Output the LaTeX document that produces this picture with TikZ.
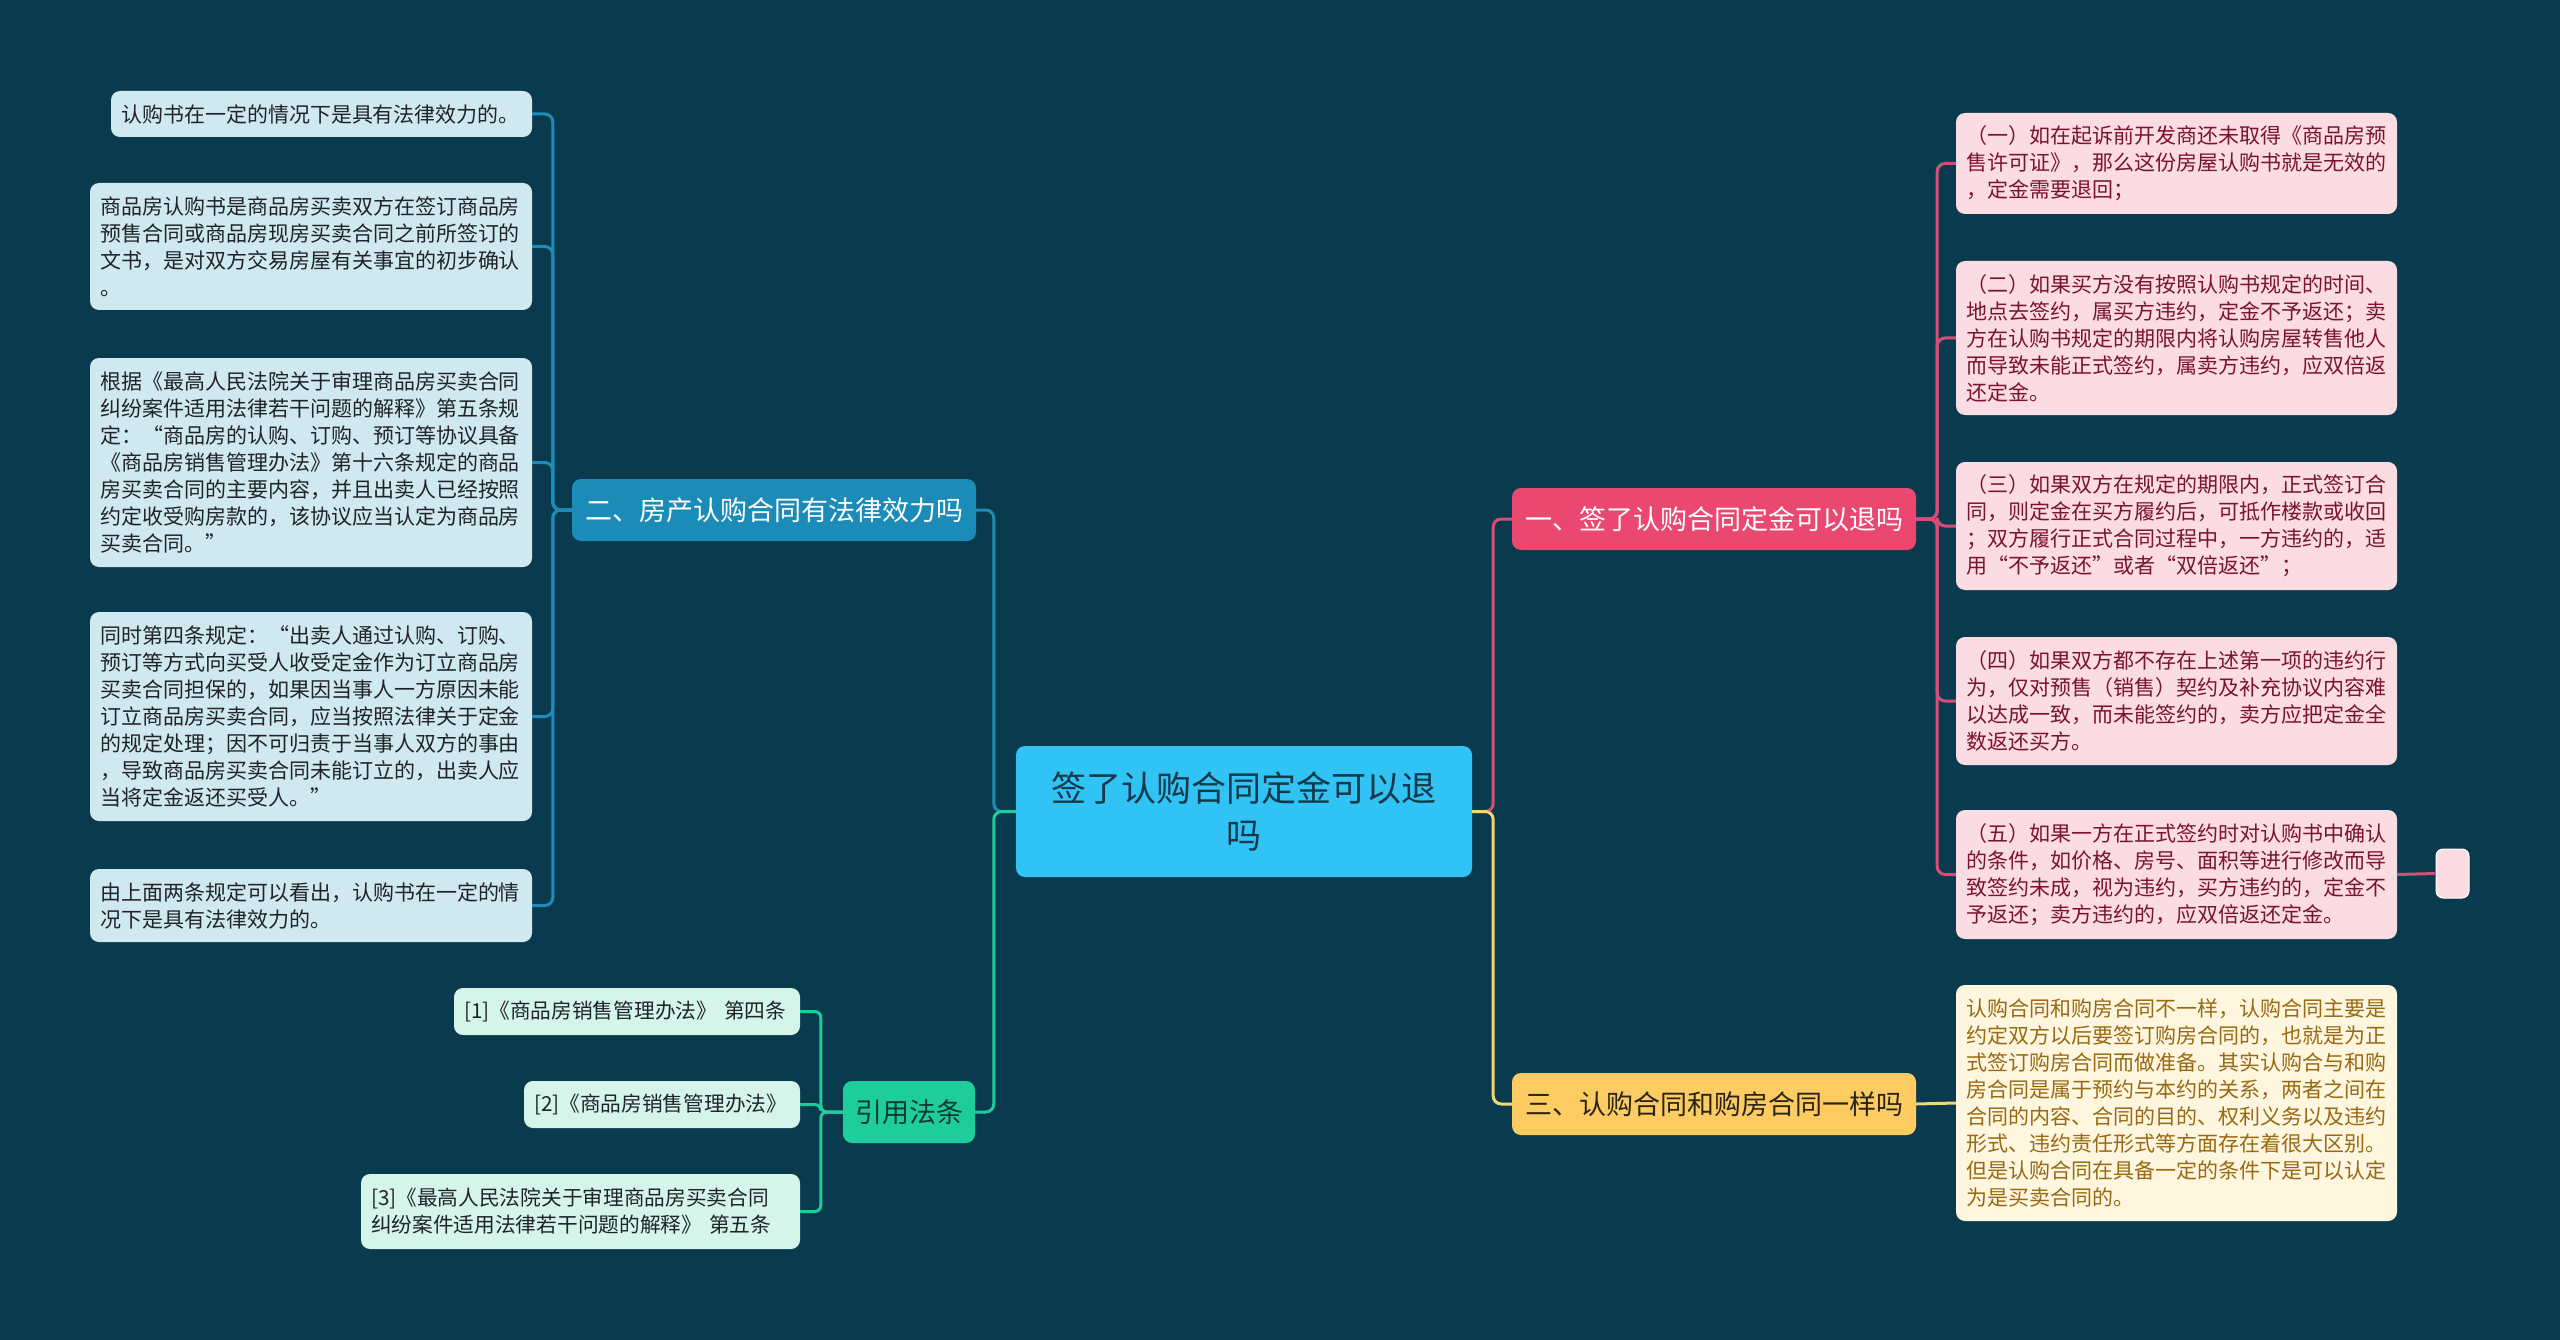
\documentclass[tikz,border=0pt]{standalone}
\usepackage{fontspec}
\setmainfont{Noto Sans CJK SC}
\definecolor{bg}{HTML}{0A3A4D}
\definecolor{cfill}{HTML}{30C3F3}
\definecolor{ctext}{HTML}{15384A}
\definecolor{bluefill}{HTML}{1B8BB7}
\definecolor{bluecon}{HTML}{1C8DBA}
\definecolor{blueleaf}{HTML}{D0E8F0}
\definecolor{leaftext}{HTML}{1E2428}
\definecolor{greenfill}{HTML}{1FCD9A}
\definecolor{greencon}{HTML}{22C99B}
\definecolor{greenleaf}{HTML}{D5F5EB}
\definecolor{greentext}{HTML}{0E3A36}
\definecolor{pinkfill}{HTML}{EA4870}
\definecolor{pinkcon}{HTML}{D64E78}
\definecolor{pinkleaf}{HTML}{FCDCE3}
\definecolor{pinktext}{HTML}{7A1233}
\definecolor{yelfill}{HTML}{FCCB62}
\definecolor{yelcon}{HTML}{F3D67A}
\definecolor{yelleaf}{HTML}{FEF6DF}
\definecolor{yeltext}{HTML}{986912}
\definecolor{yelbtext}{HTML}{2B2416}
\begin{document}
\begin{tikzpicture}[x=1pt,y=-1pt,
  boxbase/.style={rounded corners=9pt, inner ysep=0pt, inner xsep=10pt, anchor=center},
  leafbase/.style={boxbase, align=left, font=\fontsize{21pt}{27pt}\selectfont},
  bleaf/.style={leafbase, fill=blueleaf, text=leaftext},
  gleaf/.style={leafbase, fill=greenleaf, text=leaftext, font=\fontsize{20.7pt}{27pt}\selectfont},
  pleaf/.style={leafbase, fill=pinkleaf, text=pinktext},
  yleaf/.style={leafbase, fill=yelleaf, text=yeltext},
  branch/.style={boxbase, align=center, font=\fontsize{27pt}{34pt}\selectfont, minimum width=404pt, minimum height=62pt},
  con/.style={line width=3pt, rounded corners=8pt},
]
\useasboundingbox (0,0) rectangle (2560,1340);
\fill[bg] (0,0) rectangle (2560,1340);

% center
\node[boxbase, fill=cfill, text=ctext, align=center, font=\fontsize{35pt}{47pt}\selectfont,
  minimum width=456pt, minimum height=131pt] (C) at (1244,811.5) {签了认购合同定金可以退\\吗};

% branches
\node[branch, fill=bluefill, text=white] (B2) at (774,510) {二、房产认购合同有法律效力吗};
\node[branch, fill=greenfill, text=greentext, minimum width=132pt] (B5) at (909,1112) {引用法条};
\node[branch, fill=pinkfill, text=white] (B1) at (1714,519) {一、签了认购合同定金可以退吗};
\node[branch, fill=yelfill, text=yelbtext] (B3) at (1714,1104) {三、认购合同和购房合同一样吗};

% left leaves
\node[bleaf, text width=401pt, minimum height=46pt] (L1) at (321.5,114) {认购书在一定的情况下是具有法律效力的。};
\node[bleaf, text width=422pt, minimum height=127pt] (L2) at (311,246.5) {商品房认购书是商品房买卖双方在签订商品房\\预售合同或商品房现房买卖合同之前所签订的\\文书，是对双方交易房屋有关事宜的初步确认\\。};
\node[bleaf, text width=422pt, minimum height=209pt] (L3) at (311,462.5) {根据《最高人民法院关于审理商品房买卖合同\\纠纷案件适用法律若干问题的解释》第五条规\\定：“商品房的认购、订购、预订等协议具备\\《商品房销售管理办法》第十六条规定的商品\\房买卖合同的主要内容，并且出卖人已经按照\\约定收受购房款的，该协议应当认定为商品房\\买卖合同。”};
\node[bleaf, text width=422pt, minimum height=209pt] (L4) at (311,716.5) {同时第四条规定：“出卖人通过认购、订购、\\预订等方式向买受人收受定金作为订立商品房\\买卖合同担保的，如果因当事人一方原因未能\\订立商品房买卖合同，应当按照法律关于定金\\的规定处理；因不可归责于当事人双方的事由\\，导致商品房买卖合同未能订立的，出卖人应\\当将定金返还买受人。”};
\node[bleaf, text width=422pt, minimum height=73pt] (L5) at (311,905.5) {由上面两条规定可以看出，认购书在一定的情\\况下是具有法律效力的。};

% reference leaves
\node[gleaf, text width=326pt, minimum height=47pt] (R1) at (627,1011.5) {[1]《商品房销售管理办法》 第四条};
\node[gleaf, text width=256pt, minimum height=47pt] (R2) at (662,1104.5) {[2]《商品房销售管理办法》};
\node[gleaf, text width=419pt, minimum height=75pt] (R3) at (580.5,1211.5) {[3]《最高人民法院关于审理商品房买卖合同\\纠纷案件适用法律若干问题的解释》 第五条};

% pink leaves
\node[pleaf, text width=421pt, minimum height=101pt] (P1) at (2176.5,163.5) {（一）如在起诉前开发商还未取得《商品房预\\售许可证》，那么这份房屋认购书就是无效的\\，定金需要退回；};
\node[pleaf, text width=421pt, minimum height=154pt] (P2) at (2176.5,338) {（二）如果买方没有按照认购书规定的时间、\\地点去签约，属买方违约，定金不予返还；卖\\方在认购书规定的期限内将认购房屋转售他人\\而导致未能正式签约，属卖方违约，应双倍返\\还定金。};
\node[pleaf, text width=421pt, minimum height=128pt] (P3) at (2176.5,526) {（三）如果双方在规定的期限内，正式签订合\\同，则定金在买方履约后，可抵作楼款或收回\\；双方履行正式合同过程中，一方违约的，适\\用“不予返还”或者“双倍返还”；};
\node[pleaf, text width=421pt, minimum height=128pt] (P4) at (2176.5,701) {（四）如果双方都不存在上述第一项的违约行\\为，仅对预售（销售）契约及补充协议内容难\\以达成一致，而未能签约的，卖方应把定金全\\数返还买方。};
\node[pleaf, text width=421pt, minimum height=129pt] (P5) at (2176.5,874.5) {（五）如果一方在正式签约时对认购书中确认\\的条件，如价格、房号、面积等进行修改而导\\致签约未成，视为违约，买方违约的，定金不\\予返还；卖方违约的，应双倍返还定金。};
\node[boxbase, fill=pinkleaf, draw=white, line width=1pt, inner xsep=0pt, rounded corners=7pt, minimum width=33pt, minimum height=49pt] (S) at (2452.5,873.5) {};

% yellow leaf
\node[yleaf, text width=421pt, minimum height=236pt] (Y1) at (2176.5,1103) {认购合同和购房合同不一样，认购合同主要是\\约定双方以后要签订购房合同的，也就是为正\\式签订购房合同而做准备。其实认购合与和购\\房合同是属于预约与本约的关系，两者之间在\\合同的内容、合同的目的、权利义务以及违约\\形式、违约责任形式等方面存在着很大区别。\\但是认购合同在具备一定的条件下是可以认定\\为是买卖合同的。};

% connectors: center to branches
\draw[con, bluecon] (C.west) -- ++(-22,0) |- (B2.east);
\draw[con, greencon] (C.west) -- ++(-22,0) |- (B5.east);
\draw[con, pinkcon] (C.east) -- ++(21,0) |- (B1.west);
\draw[con, yelcon] (C.east) -- ++(21,0) |- (B3.west);

% branch 2 to left leaves
\foreach \n in {L1,L2,L3,L4,L5}
  \draw[con, bluecon] (B2.west) -- ++(-19,0) |- (\n.east);
% references
\foreach \n in {R1,R2,R3}
  \draw[con, greencon, rounded corners=6pt] (B5.west) -- ++(-22,0) |- (\n.east);
% branch 1 to pink leaves
\foreach \n in {P1,P2,P3,P4,P5}
  \draw[con, pinkcon] (B1.east) -- ++(21,0) |- (\n.west);
\draw[con, pinkcon] (P5.east) -- (S.west);
% branch 3
\draw[con, yelcon] (B3.east) -- (Y1.west);
\end{tikzpicture}
\end{document}
